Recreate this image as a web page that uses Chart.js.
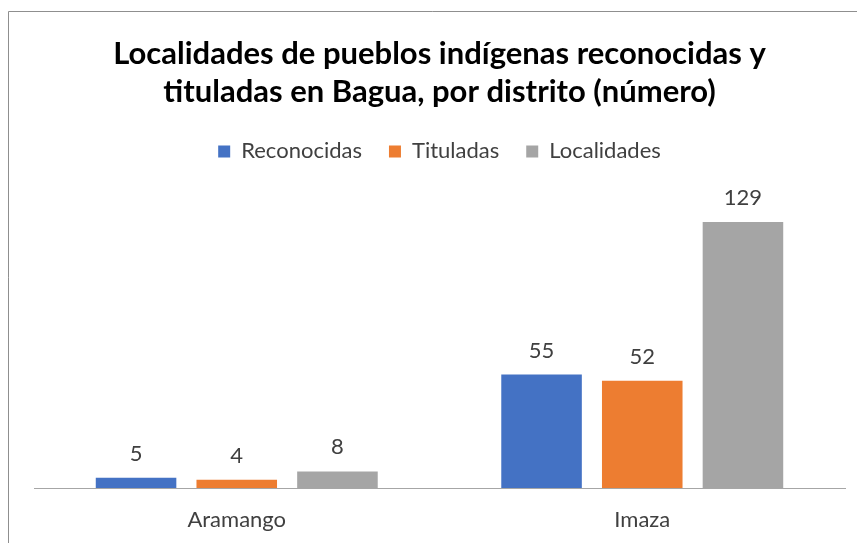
<!DOCTYPE html>
<html lang="es">
<head>
  <meta charset="UTF-8">
  <title>Localidades de pueblos indígenas</title>
  <style>
    html, body { margin: 0; padding: 0; background: #fff; }
    #wrap { position: relative; width: 857px; height: 543px; }
  </style>
  <script src="https://cdn.jsdelivr.net/npm/chart.js"></script>
</head>
<body>
  <div id="wrap"><canvas id="chart" width="857" height="543"></canvas></div>

  <script>
    const distritos = ["Aramango", "Imaza"];
    const reconocidas = [5, 55];
    const tituladas = [4, 52];
    const localidades = [8, 129];

    const FONT = "Lato, 'Open Sans', sans-serif";

    // frame line around the chart area like the spreadsheet export
    const framePlugin = {
      id: 'frame',
      beforeDraw(chart) {
        const ctx = chart.ctx;
        ctx.save();
        ctx.fillStyle = '#fff';
        ctx.fillRect(0, 0, chart.width, chart.height);
        ctx.strokeStyle = '#8f8f8f';
        ctx.lineWidth = 1;
        ctx.beginPath();
        ctx.moveTo(8.5, chart.height);
        ctx.lineTo(8.5, 11.5);
        ctx.lineTo(chart.width, 11.5);
        ctx.stroke();
        ctx.restore();
      }
    };

    // value labels above bars
    const labelPlugin = {
      id: 'barLabels',
      afterDatasetsDraw(chart) {
        const ctx = chart.ctx;
        ctx.save();
        ctx.font = "22px " + FONT;
        ctx.fillStyle = '#404040';
        ctx.textAlign = 'center';
        ctx.textBaseline = 'alphabetic';
        chart.data.datasets.forEach((ds, i) => {
          chart.getDatasetMeta(i).data.forEach((bar, j) => {
            ctx.fillText(ds.data[j], bar.x, bar.y - 17);
          });
        });
        ctx.restore();
      }
    };

    new Chart(document.getElementById('chart'), {
      type: 'bar',
      data: {
        labels: distritos,
        datasets: [
          { label: 'Reconocidas', data: reconocidas, backgroundColor: '#4472C4' },
          { label: 'Tituladas', data: tituladas, backgroundColor: '#ED7D31' },
          { label: 'Localidades', data: localidades, backgroundColor: '#A5A5A5' }
        ]
      },
      options: {
        responsive: false,
        animation: false,
        events: [],
        datasets: { bar: { categoryPercentage: 0.745, barPercentage: 0.8 } },
        layout: { padding: { left: 34, right: 12, top: 0, bottom: 0 } },
        plugins: {
          title: {
            display: true,
            text: ['Localidades de pueblos indígenas reconocidas y', 'tituladas en Bagua, por distrito (número)'],
            color: '#000',
            font: { family: FONT, size: 31, weight: 'bold', lineHeight: 1.216 },
            padding: { top: 35, bottom: 3 }
          },
          legend: {
            labels: {
              color: '#404040',
              font: { family: FONT, size: 22 },
              boxWidth: 12,
              boxHeight: 12,
              padding: 27
            }
          },
          tooltip: { enabled: false }
        },
        scales: {
          x: {
            grid: { display: false, drawTicks: false },
            border: { display: true, color: '#a6a6a6' },
            ticks: { color: '#404040', font: { family: FONT, size: 22 }, padding: 19 },
            afterFit(scale) { scale.height = 55; }
          },
          y: {
            display: false,
            min: 0,
            max: 153
          }
        }
      },
      plugins: [framePlugin, labelPlugin]
    });
  </script>
</body>
</html>
